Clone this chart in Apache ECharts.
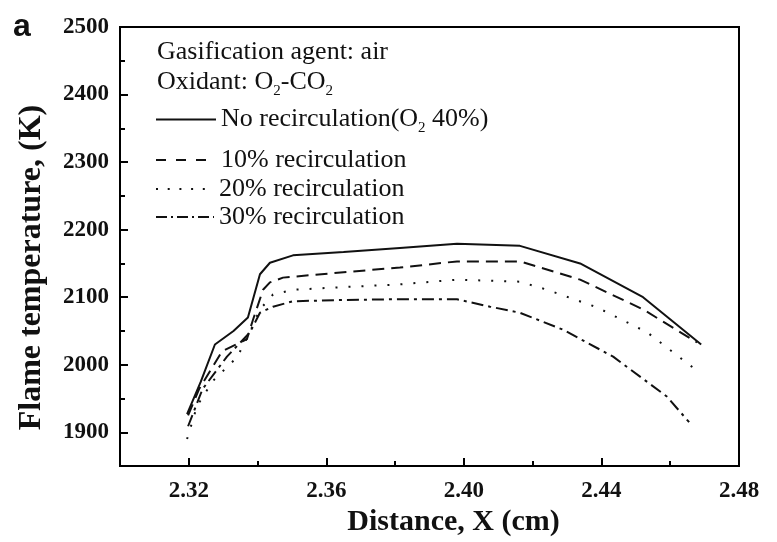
<!DOCTYPE html>
<html><head><meta charset="utf-8">
<script src="https://cdn.jsdelivr.net/npm/echarts@6/dist/echarts.min.js"></script>
<style>html,body{margin:0;padding:0;background:#fff}#c{width:777px;height:542px}</style>
</head><body><div id="c"></div>
<script>
// ---- data ----
const seriesNames = ['No recirculation(O2 40%)', '10% recirculation', '20% recirculation', '30% recirculation'];
const xTickLabels = [2.32, 2.36, 2.40, 2.44, 2.48];
const yTickLabels = [1900, 2000, 2100, 2200, 2300, 2400, 2500];

const noRecX = [2.3195, 2.3235, 2.3276, 2.3330, 2.3372, 2.3407, 2.3436, 2.3503, 2.3650, 2.3814, 2.3980, 2.4163, 2.4338, 2.4521, 2.4690];
const noRecY = [1927, 1975, 2030, 2050, 2070, 2134, 2151, 2162, 2167, 2173, 2179, 2176, 2150, 2100, 2030];

const rec10X = [2.3198, 2.3230, 2.3297, 2.3369, 2.3387, 2.3416, 2.3436, 2.3474, 2.3650, 2.3814, 2.3980, 2.4163, 2.4338, 2.4521, 2.4678];
const rec10Y = [1925, 1964, 2020, 2038, 2067, 2111, 2122, 2129, 2137, 2144, 2153, 2153, 2126, 2082, 2033];

const rec20X = [2.3195, 2.3224, 2.3270, 2.3340, 2.3372, 2.3407, 2.3445, 2.3503, 2.3650, 2.3814, 2.3980, 2.4163, 2.4242, 2.4387, 2.4533, 2.4681];
const rec20Y = [1890, 1939, 1976, 2011, 2042, 2082, 2104, 2111, 2115, 2119, 2126, 2123, 2111, 2085, 2048, 1990];

const rec30X = [2.3198, 2.3240, 2.3311, 2.3378, 2.3407, 2.3445, 2.3503, 2.3650, 2.3814, 2.3980, 2.4076, 2.4163, 2.4288, 2.4434, 2.4590, 2.4655];
const rec30Y = [1909, 1964, 2012, 2048, 2077, 2086, 2094, 2096, 2097, 2097, 2086, 2077, 2052, 2012, 1953, 1915];

// ---- build ----
const zip = (xs, ys) => xs.map((x, i) => [x, ys[i]]);
const serif = '"Liberation Serif","Times New Roman",serif';
const lineTypes = ['solid', [12, 7], [2, 11], [12, 5, 3, 5]];
const legendTypes = ['solid', [10, 10], [2, 9.7], [11, 4, 2, 4]];
const legendWidths = [60, 60, 58, 58];
const allData = [zip(noRecX, noRecY), zip(rec10X, rec10Y), zip(rec20X, rec20Y), zip(rec30X, rec30Y)];
const legendTops = [98, 141, 170, 198];

const chart = echarts.init(document.getElementById('c'), null, {renderer: 'canvas'});
const richStyles = {
  n: {fontFamily: serif, fontSize: 26, color: '#111', lineHeight: 28},
  sub: {fontFamily: serif, fontSize: 15, color: '#111', lineHeight: 14, padding: [18, 0, 0, 0]}
};
const legendText = {fontFamily: serif, fontSize: 26, color: '#111', lineHeight: 28, rich: richStyles};
chart.setOption({
  animation: false,
  grid: {left: 120, top: 27, right: 38, bottom: 75, show: true, borderColor: '#000', borderWidth: 2, containLabel: false},
  xAxis: [{
    type: 'value', min: 2.30, max: 2.48,
    name: 'Distance, X (cm)', nameLocation: 'middle', nameGap: 40,
    nameTextStyle: {fontFamily: serif, fontWeight: 'bold', fontSize: 30, color: '#111', padding: [0, 0, 0, 48]},
    axisLine: {show: true, lineStyle: {color: '#000', width: 2}},
    axisTick: {show: true, inside: true, length: 8, lineStyle: {color: '#000', width: 2}, customValues: xTickLabels},
    axisLabel: {customValues: xTickLabels, margin: 13, fontFamily: serif, fontWeight: 'bold', fontSize: 23, color: '#111',
      formatter: v => v.toFixed(2)},
    splitLine: {show: false}
  }, {
    type: 'value', min: 2.30, max: 2.48, interval: 0.02, position: 'bottom',
    axisLine: {show: false}, axisLabel: {show: false}, splitLine: {show: false},
    axisTick: {show: true, inside: true, length: 5, lineStyle: {color: '#000', width: 2}}
  }],
  yAxis: [{
    type: 'value', min: 1850, max: 2500,
    name: 'Flame temperature, (K)', nameLocation: 'middle', nameGap: 72,
    nameTextStyle: {fontFamily: serif, fontWeight: 'bold', fontSize: 32, color: '#111', padding: [0, 42, 0, 0]},
    axisLine: {show: true, lineStyle: {color: '#000', width: 2}},
    axisTick: {show: true, inside: true, length: 8, lineStyle: {color: '#000', width: 2}, customValues: yTickLabels},
    axisLabel: {customValues: yTickLabels, margin: 11, fontFamily: serif, fontWeight: 'bold', fontSize: 23, color: '#111',
      formatter: v => String(v)},
    splitLine: {show: false}
  }, {
    type: 'value', min: 1850, max: 2500, interval: 50, position: 'left',
    axisLine: {show: false}, axisLabel: {show: false}, splitLine: {show: false},
    axisTick: {show: true, inside: true, length: 5, lineStyle: {color: '#000', width: 2}}
  }],
  legend: seriesNames.map((n, i) => ({
    data: [n], left: 150, top: legendTops[i], orient: 'vertical',
    itemWidth: legendWidths[i], itemHeight: 12, itemGap: 0,
    itemStyle: {opacity: 0},
    lineStyle: {type: legendTypes[i], width: 2, color: '#111'},
    textStyle: legendText,
    formatter: name => name === seriesNames[0] ? '{n|No recirculation(O}{sub|2}{n| 40%)}' : '{n|' + name + '}'
  })),
  graphic: [
    {type: 'text', left: 13, top: 11, style: {text: 'a', font: 'bold 32px "Liberation Sans", Arial, sans-serif', fill: '#111'}},
    {type: 'text', left: 157, top: 39, style: {text: 'Gasification agent: air', font: '26px ' + serif, fill: '#111'}},
    {type: 'text', left: 157, top: 66, style: {
      text: '{n|Oxidant: O}{sub|2}{n|-CO}{sub|2}',
      rich: richStyles, fill: '#111'}}
  ],
  series: allData.map((d, i) => ({
    name: seriesNames[i], type: 'line', data: d, symbol: 'none', smooth: false,
    xAxisIndex: 0, yAxisIndex: 0,
    lineStyle: {color: '#111', width: 2, type: lineTypes[i]}
  }))
});
</script></body></html>
